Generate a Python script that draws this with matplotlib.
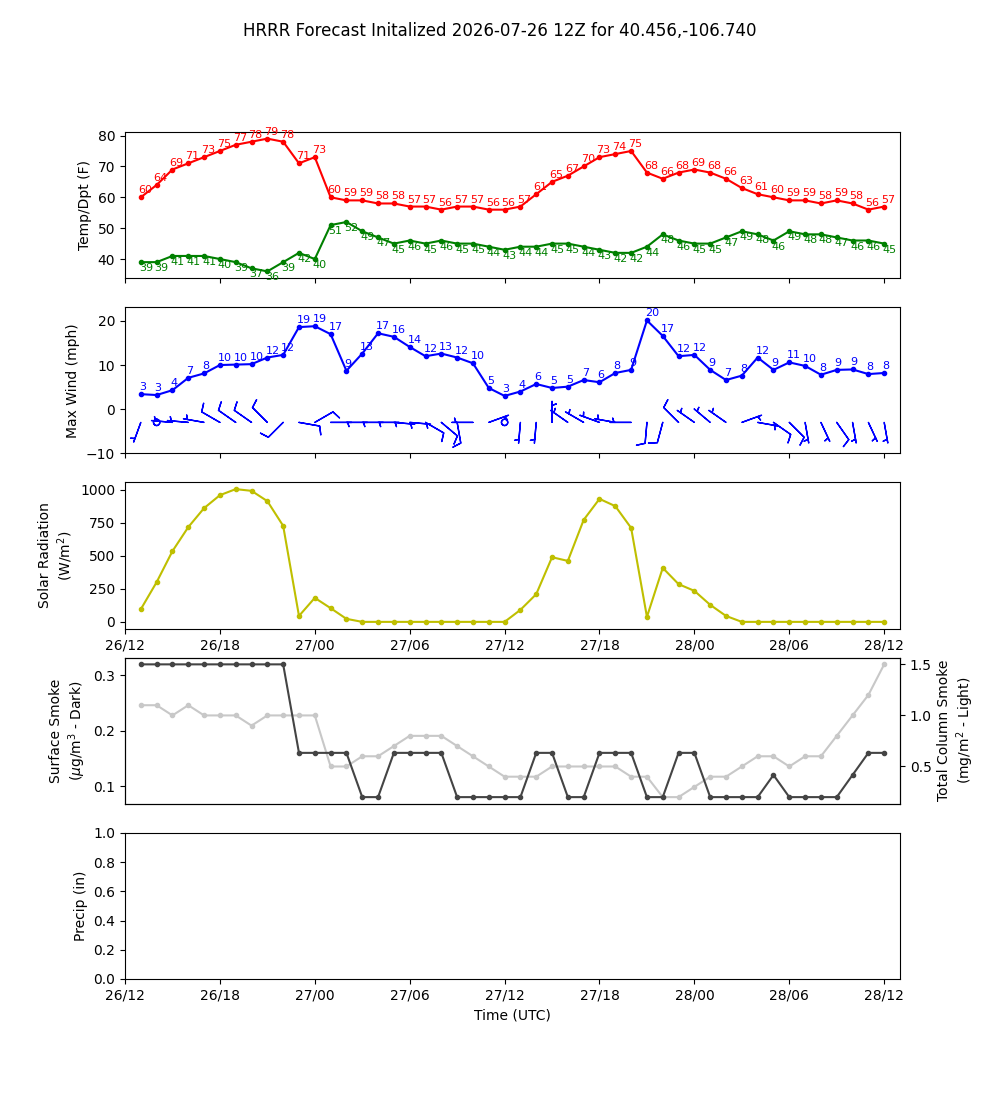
import numpy as np
import pandas as pd
import matplotlib
matplotlib.use('Agg')
import matplotlib.pyplot as plt
import matplotlib.dates as mdates

title = 'HRRR Forecast Initalized 2026-07-26 12Z for 40.456,-106.740'
times = pd.date_range('2026-07-26 13:00', periods=48, freq='h')

temp = [60, 64, 69, 71, 73, 75, 77, 78, 79, 78, 71, 73, 60, 59, 59, 58, 58, 57, 57, 56, 57, 57, 56, 56,
        57, 61, 65, 67, 70, 73, 74, 75, 68, 66, 68, 69, 68, 66, 63, 61, 60, 59, 59, 58, 59, 58, 56, 57]
dewp = [39, 39, 41, 41, 41, 40, 39, 37, 36, 39, 42, 40, 51, 52, 49, 47, 45, 46, 45, 46, 45, 45, 44, 43,
        44, 44, 45, 45, 44, 43, 42, 42, 44, 48, 46, 45, 45, 47, 49, 48, 46, 49, 48, 48, 47, 46, 46, 45]

wind = [3.4, 3.2, 4.3, 7.1, 8.1, 10.0, 10.1, 10.2, 11.7, 12.3, 18.6, 18.8, 17.0, 8.7, 12.6, 17.2,
        16.4, 14.1, 12.0, 12.6, 11.7, 10.4, 4.8, 3.0, 4.0, 5.7, 4.8, 5.1, 6.6, 6.1, 8.2, 8.9,
        20.1, 16.6, 12.0, 12.3, 8.9, 6.6, 7.6, 11.7, 8.9, 10.6, 9.8, 7.8, 8.9, 9.0, 7.95, 8.2]
# barbs: direction wind is from (deg) and barb speed
barb_dir = [200, 0, 275, 275, 280, 300, 305, 305, 315, 225, 100, 60, 90, 90, 90, 90,
            95, 95, 120, 130, 170, 270, 70, 0, 185, 185, 360, 305, 300, 290, 280, 270,
            185, 195, 315, 305, 310, 305, 70, 100, 125, 135, 170, 155, 145, 170, 155, 170]
barb_spd = [5, 0, 5, 5, 5, 10, 10, 10, 10, 10, 10, 10, 5, 5, 5, 5,
            5, 5, 10, 10, 10, 5, 5, 0, 5, 5, 5, 5, 5, 5, 5, 5,
            10, 10, 10, 5, 5, 5, 5, 5, 10, 10, 5, 5, 10, 5, 5, 5]

solar = [96, 301, 536, 718, 862, 960, 1006, 993, 915, 728, 45, 182, 104, 23, 0, 0,
         0, 0, 0, 0, 0, 0, 0, 0, 91, 210, 490, 462, 773, 932, 877, 712,
         38, 409, 286, 235, 129, 45, 0, 0, 0, 0, 0, 0, 0, 0, 0, 0]

sfc_smoke = [0.32, 0.32, 0.32, 0.32, 0.32, 0.32, 0.32, 0.32, 0.32, 0.32, 0.16, 0.16, 0.16, 0.16, 0.08, 0.08,
             0.16, 0.16, 0.16, 0.16, 0.08, 0.08, 0.08, 0.08, 0.08, 0.16, 0.16, 0.08, 0.08, 0.16, 0.16, 0.16,
             0.08, 0.08, 0.16, 0.16, 0.08, 0.08, 0.08, 0.08, 0.12, 0.08, 0.08, 0.08, 0.08, 0.12, 0.16, 0.16]
col_smoke = [1.1, 1.1, 1.0, 1.1, 1.0, 1.0, 1.0, 0.9, 1.0, 1.0, 1.0, 1.0, 0.5, 0.5, 0.6, 0.6,
             0.7, 0.8, 0.8, 0.8, 0.7, 0.6, 0.5, 0.4, 0.4, 0.4, 0.5, 0.5, 0.5, 0.5, 0.5, 0.4,
             0.4, 0.2, 0.2, 0.3, 0.4, 0.4, 0.5, 0.6, 0.6, 0.5, 0.6, 0.6, 0.8, 1.0, 1.2, 1.5]

fig, axes = plt.subplots(5, 1, figsize=(10, 11), dpi=100, sharex=True)
fig.suptitle(title)
ax1, ax2, ax3, ax4, ax5 = axes

# temperature / dewpoint
ax1.plot(times, temp, 'r.-')
ax1.plot(times, dewp, 'g.-')
for t, tv, dv in zip(times, temp, dewp):
    ax1.annotate(str(int(round(tv))), (t, tv), xytext=(-3, 2), textcoords='offset pixels',
                 ha='left', va='bottom', fontsize=8, color='r')
    ax1.annotate(str(int(round(dv))), (t, dv), xytext=(-2, -1), textcoords='offset pixels',
                 ha='left', va='top', fontsize=8, color='g')
ax1.set_ylabel('Temp/Dpt (F)')

# wind
ax2.plot(times, wind, 'b.-')
for t, w in zip(times, wind):
    ax2.annotate(str(int(round(w))), (t, w), xytext=(-2, 2), textcoords='offset pixels',
                 ha='left', va='bottom', fontsize=8, color='b')
rad = np.deg2rad(barb_dir)
u = -np.array(barb_spd) * np.sin(rad)
v = -np.array(barb_spd) * np.cos(rad)
ax2.barbs(times, np.full(len(times), -3.0), u, v, color='b', length=5.5)
ax2.set_ylim(-10, max(wind) + 3)
ax2.set_ylabel('Max Wind (mph)')

# solar
ax3.plot(times, solar, 'y.-')
ax3.set_ylabel('Solar Radiation\n(W/m$^2$)')
ax3.tick_params(labelbottom=True)

# smoke
ax4.plot(times, sfc_smoke, '.-', color='#444444')
ax4.set_ylabel('Surface Smoke\n($\\mu$g/m$^3$ - Dark)')
ax4b = ax4.twinx()
ax4b.plot(times, col_smoke, '.-', color='#c8c8c8')
ax4b.set_ylabel('Total Column Smoke\n(mg/m$^2$ - Light)')
ax4.set_zorder(ax4b.get_zorder() + 1)
ax4.patch.set_visible(False)
ax4.tick_params(bottom=False, labelbottom=False)

# precip
ax5.set_ylim(0, 1)
ax5.set_ylabel('Precip (in)')
ax5.set_xlabel('Time (UTC)')

ax5.set_xlim(times[0] - pd.Timedelta(hours=1), times[-1] + pd.Timedelta(hours=1))
ax5.xaxis.set_major_locator(mdates.HourLocator(byhour=[0, 6, 12, 18]))
ax5.xaxis.set_major_formatter(mdates.DateFormatter('%d/%H'))

fig.savefig('out.png')
